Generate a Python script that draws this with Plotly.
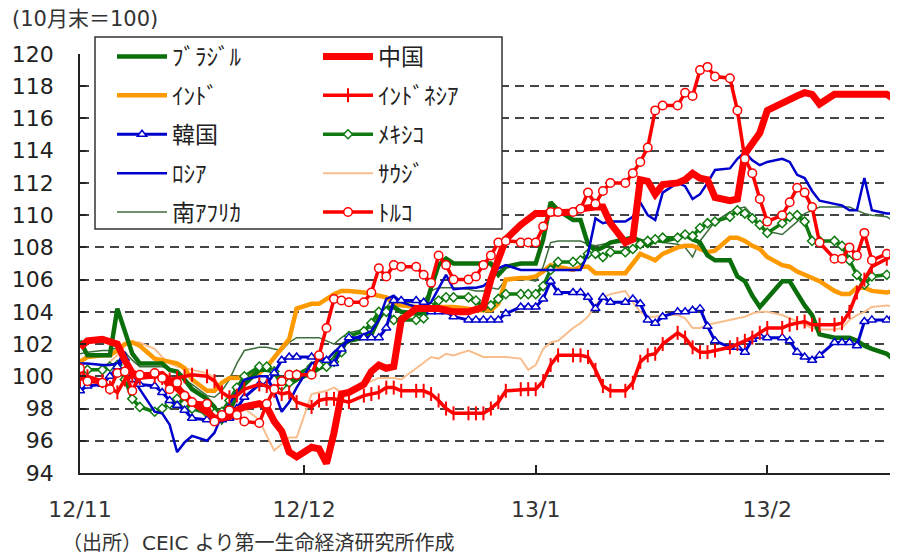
import pandas as pd
import plotly.graph_objects as go

# ---- data (index, end of Oct 2012 = 100) ----
dates = pd.bdate_range("2012-11-01", "2013-02-18", freq="C",
                       weekmask="Sun Mon Tue Wed Thu Fri")

china = [101.8, 102.2,
         102.3, 102.2, 102.0, 101.0, 100.2, 100.0,
         100.0, 100.1, 99.7, 99.3, 98.8, 98.4,
         97.8, 97.4, 97.4, 97.5, 97.9, 98.1,
         98.3, 98.1, 97.2, 96.6, 95.3, 95.0,
         95.6, 95.5, 94.6, 96.5, 98.9, 99.0,
         99.5, 100.3, 100.7, 100.5, 100.6, 103.5,
         104.2, 104.2, 104.3, 104.2, 104.1, 104.0,
         104.0, 104.1, 104.3, 106.0, 107.3, 108.5,
         109.4, 109.8, 110.1, 110.1, 110.1, 110.1,
         110.2, 110.4, 110.5, 110.5, 110.5, 109.5,
         108.3, 108.5, 112.2, 112.1, 111.3, 111.9,
         112.0, 112.2, 112.6, 112.3, 112.2, 111.1,
         110.9, 111.0, 113.8, 114.4, 115.1, 116.5,
         117.0, 117.2, 117.4, 117.6, 117.5, 116.9,
         117.5, 117.5, 117.5, 117.5, 117.5, 117.5,
         117.5, 117.2]

turkey = [100.5, 99.7,
          99.6, 99.2, 100.2, 100.3, 99.1, 100.1,
          100.2, 99.9, 99.2, 99.6, 98.8, 98.4,
          98.3, 97.2, 97.6, 97.9, 97.6, 97.2,
          97.1, 98.3, 99.2, 99.7, 100.1, 100.1,
          100.1, 101.3, 103.0, 104.8, 104.7, 104.6,
          104.6, 105.2, 106.7, 106.2, 106.9, 106.8,
          106.8, 106.3, 105.8, 107.5, 106.9, 106.0,
          106.0, 106.2, 106.9, 107.5, 108.3, 108.4,
          108.3, 108.3, 108.3, 109.3, 110.2, 110.2,
          110.2, 110.4, 111.4, 110.7, 111.5, 112.0,
          112.0, 112.6, 113.3, 114.2, 116.5, 116.8,
          116.8, 117.6, 117.4, 119.0, 119.2, 118.6,
          118.5, 116.5, 113.5, 112.6, 111.0, 109.6,
          110.0, 110.8, 111.7, 111.4, 110.5, 108.3,
          107.3, 107.3, 108.0, 107.5, 108.9, 107.2,
          107.6, 107.6]

brazil = [102.2, 101.3,
          101.3, 101.3, 104.2, 102.9, 101.4, 100.8,
          100.8, 100.8, 100.4, 100.3, 99.8, 99.2,
          98.6, 98.1, 97.2, 97.8, 98.9, 99.5,
          100.4, 100.4, 100.3, 99.6, 99.5, 99.8,
          100.2, 100.5, 100.7, 101.1, 101.9, 102.2,
          102.4, 102.6, 103.6, 104.2, 104.3, 104.0,
          103.9, 103.9, 105.5, 106.9, 107.3, 107.0,
          107.0, 107.0, 107.0, 107.0, 106.3, 106.8,
          107.0, 107.0, 107.0, 108.5, 110.8, 110.3,
          109.7, 109.7, 108.2, 107.8, 108.0, 108.3,
          108.5, 108.6, 108.4, 108.1, 108.5, 108.4,
          108.6, 108.8, 108.5, 108.3, 107.5, 107.2,
          107.2, 106.2, 105.9, 105.0, 104.3, 104.8,
          105.9, 105.9, 105.1, 104.4, 103.8, 102.6,
          102.4, 102.4, 102.4, 102.2, 101.9, 101.7,
          101.4, 101.0]

india = [100.9, 101.2,
         101.3, 101.3, 101.6, 102.0, 102.1, 101.9,
         101.1, 101.0, 100.9, 100.8, 100.5, 99.8,
         99.1, 99.1, 99.6, 99.9, 99.9, 100.0,
         100.2, 100.6, 101.2, 101.7, 102.3, 104.2,
         104.5, 104.5, 104.8, 105.1, 105.3, 105.3,
         105.2, 105.1, 105.0, 104.9, 104.5, 104.4,
         104.3, 104.3, 104.3, 104.3, 104.3, 104.3,
         104.2, 104.1, 104.1, 104.1, 104.5, 106.0,
         106.1, 106.1, 106.2, 106.5, 106.9, 106.8,
         106.6, 106.8, 106.8, 106.4, 106.4, 106.4,
         106.4, 107.0, 107.6, 107.4, 107.2, 107.6,
         108.0, 108.1, 108.1, 107.9, 107.7, 107.8,
         108.6, 108.6, 108.4, 108.1, 107.9, 107.4,
         106.9, 106.8, 106.5, 106.3, 106.1, 105.9,
         105.3, 105.1, 105.1, 105.5, 105.5, 105.3,
         105.2, 105.3]

korea = [99.1, 99.4,
         99.5, 100.0, 100.6, 101.1, 99.8, 99.5,
         99.4, 99.0, 98.5, 98.2, 97.9, 97.4,
         97.3, 97.3, 97.3, 97.4, 98.0, 98.7,
         99.5, 99.5, 100.2, 101.0, 101.2, 101.2,
         101.2, 101.2, 101.0, 100.8, 101.7, 102.4,
         102.4, 102.4, 102.4, 103.0, 104.7, 104.7,
         104.7, 104.6, 104.0, 104.0, 104.0, 103.7,
         103.5, 103.5, 103.5, 103.5, 103.5, 103.9,
         104.3, 104.3, 104.3, 104.8, 105.9, 105.2,
         105.2, 105.2, 104.9, 104.2, 104.9, 104.6,
         104.6, 104.8, 104.5, 103.5, 103.3, 103.7,
         104.0, 104.0, 104.1, 104.2, 103.1, 102.2,
         101.8, 101.8, 101.5, 102.3, 102.5, 102.4,
         102.4, 102.2, 101.5, 101.2, 101.0, 101.3,
         102.1, 102.1, 102.1, 101.9, 103.4, 103.5,
         103.5, 103.8]

russia = [100.8, 100.8,
          100.7, 100.7, 100.8, 101.5, 100.0, 99.2,
          97.8, 97.7, 97.0, 95.3, 95.9, 96.3,
          96.0, 96.5, 97.6, 98.3, 99.0, 99.8,
          100.0, 100.0, 99.1, 97.8, 98.4, 99.3,
          100.8, 101.0, 101.0, 101.5, 101.9, 102.2,
          102.6, 102.8, 103.5, 104.8, 105.0, 104.6,
          104.3, 104.3, 104.6, 105.5, 106.3, 105.4,
          105.5, 105.5, 105.6, 106.0, 106.7, 106.9,
          106.6, 106.6, 106.6, 106.6, 106.6, 106.6,
          106.6, 106.6, 107.6, 109.8, 109.5, 109.6,
          109.6, 109.9, 110.8, 110.0, 109.7, 111.4,
          112.0, 111.8, 111.0, 111.3, 112.0, 112.8,
          112.9, 113.5, 113.9, 113.4, 113.1, 113.3,
          113.5, 113.3, 112.5, 112.3, 111.5, 110.9,
          110.7, 110.6, 110.3, 110.3, 112.3, 110.3,
          110.1, 110.1]

mexico = [100.2, 100.4,
          100.4, 100.6, 100.7, 99.8, 98.6, 98.1,
          97.8, 98.0, 98.3, 98.6, 98.3, 98.0,
          97.7, 97.7, 97.8, 98.5, 99.3, 100.0,
          100.6, 100.6, 100.3, 99.4, 99.6, 100.1,
          100.6, 100.7, 100.6, 100.9, 101.5, 102.5,
          102.8, 103.3, 104.0, 104.0, 103.5, 103.5,
          103.5, 103.6, 104.3, 104.7, 104.9, 104.9,
          104.9, 104.7, 104.3, 104.4, 104.8, 105.1,
          105.1, 105.1, 105.1, 105.6, 106.6, 107.1,
          107.1, 107.2, 107.6, 107.6, 107.4, 107.7,
          107.7, 107.9, 108.2, 108.4, 108.5, 108.6,
          108.6, 108.8, 108.7, 109.2, 109.5, 109.6,
          109.9, 110.3, 110.1, 109.8, 109.4, 108.9,
          109.5, 109.9, 110.0, 109.6, 108.4, 108.4,
          108.4, 108.1, 107.2, 106.3, 105.7, 106.2,
          106.3, 106.3]

saudi = [100.0, 100.3,
         100.5, 100.9, 101.3, 101.9, 102.1, 102.1,
         101.7, 101.2, 100.8, 100.6, 100.5, 100.4,
         100.2, 99.9, 99.0, 98.5, 98.2, 98.0,
         97.3, 96.3, 95.4, 95.8, 96.2, 96.2,
         98.9, 99.0, 99.1, 99.3, 99.0, 99.1,
         99.5, 99.7, 99.9, 99.9, 99.9, 99.8,
         100.5, 100.9, 101.2, 101.1, 101.4, 101.3,
         101.6, 101.4, 101.2, 101.2, 101.2, 101.2,
         101.1, 100.4, 100.7, 101.7, 102.1, 102.2,
         103.0, 103.3, 103.7, 104.4, 104.9, 105.1,
         105.3, 104.6, 104.0, 103.7, 103.7, 103.8,
         103.8, 103.6, 103.0, 103.0, 103.2, 103.3,
         103.5, 103.6, 103.7, 103.9, 104.0, 104.0,
         103.8, 103.6, 103.4, 103.2, 103.0, 102.9,
         102.9, 103.0, 103.5, 103.8, 104.0, 104.3,
         104.4, 104.3]

indonesia = [99.8, 100.0,
             99.7, 99.3, 99.0, 99.8, 100.0, 99.9,
             100.0, 99.9, 99.8, 99.9, 100.0, 100.1,
             100.0, 99.7, 99.0, 98.7, 98.8, 99.2,
             99.5, 99.4, 99.1, 98.9, 99.0, 98.4,
             98.1, 98.5, 98.6, 98.6, 98.5, 98.4,
             98.8, 98.9, 99.0, 99.3, 99.3, 99.1,
             99.1, 99.1, 98.9, 98.5, 98.0, 97.7,
             97.7, 97.7, 97.7, 98.0, 98.4, 99.1,
             99.2, 99.2, 99.2, 99.7, 100.7, 101.3,
             101.3, 101.3, 101.2, 100.4, 99.4, 99.1,
             99.1, 99.6, 100.9, 101.3, 101.4, 102.0,
             102.7, 102.4, 101.8, 101.5, 101.5, 101.6,
             101.8, 102.0, 102.2, 102.4, 102.7, 103.0,
             103.0, 103.2, 103.3, 103.4, 103.2, 103.2,
             103.2, 103.3, 104.0, 105.2, 106.0, 106.8,
             107.3, 107.5]

safrica = [101.4, 101.5,
           101.6, 101.6, 101.8, 101.5, 101.0, 100.6,
           100.6, 100.6, 100.4, 100.2, 99.8, 99.5,
           98.8, 98.7, 99.1, 99.8, 100.8, 101.6,
           101.8, 101.8, 101.7, 101.6, 102.1, 102.4,
           102.4, 102.4, 102.2, 102.0, 102.4, 102.7,
           102.9, 103.0, 103.6, 104.3, 104.8, 104.6,
           104.6, 104.7, 105.3, 105.5, 105.5, 105.5,
           105.4, 105.3, 105.3, 105.5, 105.4, 106.0,
           106.0, 106.0, 105.9, 106.8, 108.3, 108.4,
           108.4, 108.4, 108.2, 108.1, 108.2, 108.3,
           108.3, 108.4, 108.5, 108.4, 108.4, 108.3,
           108.2, 108.0, 107.4, 108.4, 109.0, 109.6,
           110.2, 110.4, 110.5, 110.0, 109.4, 109.0,
           108.8, 109.2, 109.6, 110.1, 110.3, 110.5,
           110.5, 110.5, 110.5, 110.3, 110.1, 110.0,
           109.9, 109.6]

tick_dates = ["2012-11-01", "2012-12-01", "2013-01-01", "2013-02-01"]
tick_labels = ["12/11", "12/12", "13/1", "13/2"]

FONT = "DejaVu Sans, Noto Sans CJK JP, sans-serif"
JFONT = "Noto Sans CJK JP, DejaVu Sans, sans-serif"

fig = go.Figure()

def add(name, y, color, width, legend, rank, marker=None):
    kw = dict(x=dates, y=y, name=name, mode="lines",
              line=dict(color=color, width=width),
              legend=legend, legendrank=rank, legendgroup=name)
    if marker is not None:
        kw["mode"] = "lines+markers"
        kw["marker"] = marker
    fig.add_trace(go.Scatter(**kw))

# drawing order (bottom -> top)
add("南ｱﾌﾘｶ", safrica, "#3C6E3C", 1.5, "legend", 5)
add("ｻｳｼﾞ", saudi, "#F9BE8E", 2, "legend2", 4)
add("ｲﾝﾄﾞ", india, "#FF9900", 4.5, "legend", 2)
add("ﾌﾞﾗｼﾞﾙ", brazil, "#0A6E0A", 4.5, "legend", 1)
add("ﾒｷｼｺ", mexico, "#117A11", 3.5, "legend2", 3,
    dict(symbol="diamond", size=7, color="white",
         line=dict(color="#117A11", width=1.5)))
add("ﾛｼｱ", russia, "#0000CC", 2.5, "legend", 4)
add("韓国", korea, "#0000CC", 3, "legend", 3,
    dict(symbol="triangle-up", size=8, color="white",
         line=dict(color="#0000CC", width=1.5)))
add("ｲﾝﾄﾞﾈｼｱ", indonesia, "#FF0000", 3.5, "legend2", 2,
    dict(symbol="line-ns", size=10, color="#FF0000",
         line=dict(color="#FF0000", width=2)))
add("中国", china, "#FF0000", 7, "legend2", 1)
add("ﾄﾙｺ", turkey, "#FF0000", 3.5, "legend2", 5,
    dict(symbol="circle", size=8.5, color="white",
         line=dict(color="#FF0000", width=1.5)))

# page offset (browser body margin) -> figure is drawn at (8, 8)
OFF = 8
W, H = 898 - OFF, 557 - OFF
L, R = 80 - OFF, 0
T = 54 - OFF
B = H - (473 - OFF)
pw, ph = W - L - R, H - T - B

def px(xr):
    """reference-page x pixel -> paper coordinate"""
    return (xr - OFF - L) / pw

def py(yr):
    """reference-page y pixel -> paper coordinate"""
    return (H - B - (yr - OFF)) / ph

legend_common = dict(
    font=dict(family=JFONT, size=23, color="#222222"),
    bgcolor="rgba(0,0,0,0)", borderwidth=0,
    traceorder="grouped", tracegroupgap=6,
    itemwidth=50, yanchor="top", xanchor="left",
)

fig.update_layout(
    width=W, height=H,
    margin=dict(l=L, r=R, t=T, b=B, autoexpand=False),
    paper_bgcolor="white", plot_bgcolor="white",
    font=dict(family=FONT, size=20, color="#222222"),
    showlegend=True,
    legend=dict(x=px(112), y=py(35), **legend_common),
    legend2=dict(x=px(318), y=py(35), **legend_common),
    xaxis=dict(
        type="date", automargin=False,
        range=["2012-11-01", "2013-02-18 12:00"],
        tickvals=tick_dates, ticktext=tick_labels,
        ticks="inside", ticklen=8, tickwidth=1.5, tickcolor="#222222",
        showline=True, linecolor="#222222", linewidth=1.5,
        showgrid=False, zeroline=False,
        tickfont=dict(family=FONT, size=22, color="#333333"),
        ticklabelstandoff=16,
    ),
    yaxis=dict(
        range=[94, 120], dtick=2, tick0=94, automargin=False,
        ticks="inside", ticklen=6, tickwidth=1.5, tickcolor="#222222",
        showline=True, linecolor="#222222", linewidth=1.5,
        showgrid=True, gridcolor="#444444", gridwidth=1.5,
        griddash="9px,6px", zeroline=False,
        tickfont=dict(family=FONT, size=22, color="#222222"),
        ticklabelstandoff=20,
    ),
    shapes=[dict(type="rect", xref="paper", yref="paper",
                 x0=px(95), x1=px(502), y0=py(229), y1=py(37),
                 line=dict(color="#333333", width=1.5),
                 fillcolor="white", layer="above")],
    annotations=[
        dict(text="(10月末＝100)", xref="paper", yref="paper",
             x=px(10), y=py(19), xanchor="left", yanchor="middle",
             showarrow=False, font=dict(family=FONT, size=21, color="#333333")),
        dict(text="（出所）CEIC より第一生命経済研究所作成", xref="paper", yref="paper",
             x=px(60), y=py(557), xanchor="left", yanchor="bottom",
             showarrow=False, font=dict(family=FONT, size=20, color="#333333")),
    ],
)

fig.write_html("out.html")
